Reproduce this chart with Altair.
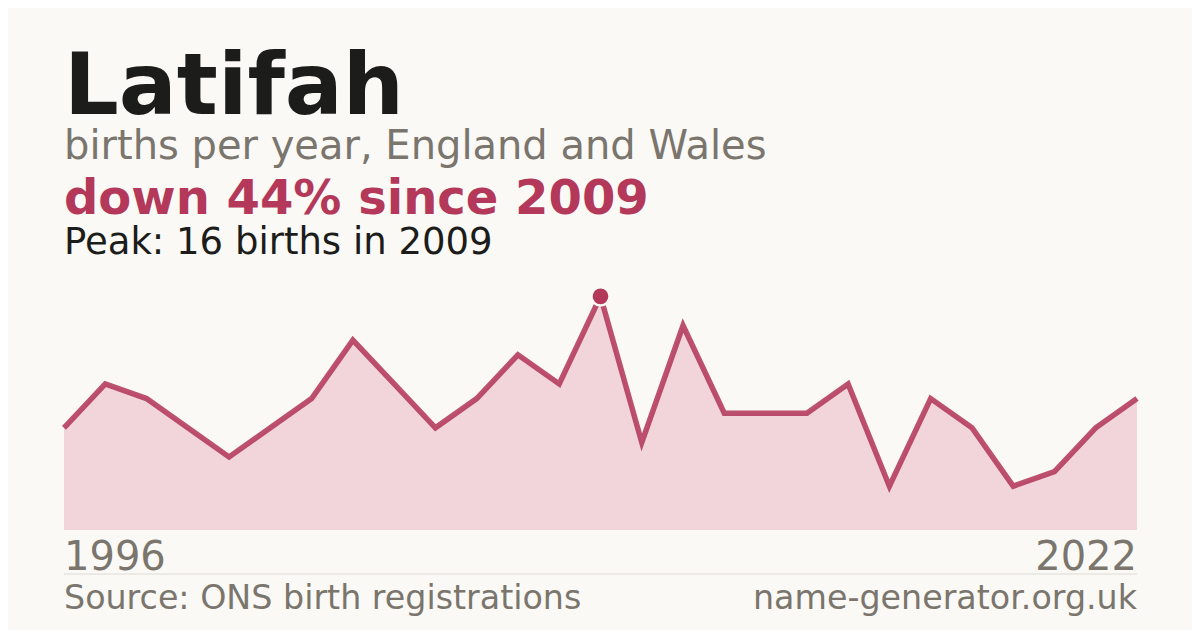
import altair as alt
import pandas as pd

years = list(range(1996, 2023))
births = [7, 10, 9, 7, 5, 7, 9, 13, 10, 7, 9, 12, 10, 16, 6, 14, 8, 8, 8, 10, 3, 9, 7, 3, 4, 7, 9]

name = "Latifah"
subtitle = "births per year, England and Wales"
headline = "down 44% since 2009"
peak_text = "Peak: 16 births in 2009"
start_label = "1996"
end_label = "2022"
source_text = "Source: ONS birth registrations"
site_text = "name-generator.org.uk"
peak_year = [2009]
peak_value = [16]

LINE = "#b3385a"
AREA = "#f1d5da"
GREY = "#7a756d"
DARK = "#1c1c1a"
BG = "#faf9f5"
FONT = "DejaVu Sans"

df = pd.DataFrame({"year": years, "births": births})
peak_df = pd.DataFrame({"year": peak_year, "births": peak_value})

x = alt.X("year:Q", scale=alt.Scale(domain=[1996, 2022], nice=False, zero=False), axis=None)
y = alt.Y("births:Q", scale=alt.Scale(domain=[0, 17.12], nice=False), axis=None)

base = alt.Chart(df)
area = base.mark_area(color=AREA, opacity=1).encode(x=x, y=y)
line = base.mark_line(color=LINE, strokeWidth=5.5, strokeJoin="miter", opacity=0.88).encode(x=x, y=y)
point = alt.Chart(peak_df).mark_point(
    shape="circle", filled=True, size=330, color=LINE, stroke=BG, strokeWidth=2.5, opacity=1
).encode(x=x, y=y)


def txt(s, yv, size, color, weight="normal", align="left", xv=0):
    return alt.Chart(pd.DataFrame({"t": [s]})).mark_text(
        align=align, baseline="alphabetic", font=FONT, fontSize=size,
        fontWeight=weight, color=color
    ).encode(text="t:N", x=alt.value(xv), y=alt.value(yv))


t_name = txt(name, -166, 86, DARK, "bold")
t_sub = txt(subtitle, -121, 40, GREY)
t_head = txt(headline, -66, 48, "#b3385a", "bold")
t_peak = txt(peak_text, -26, 37, DARK)
t_start = txt(start_label, 290, 40, GREY)
t_end = txt(end_label, 290, 40, GREY, align="right", xv=1073)
t_src = txt(source_text, 329, 33.3, GREY)
t_site = txt(site_text, 329, 33.3, GREY, align="right", xv=1073)

rule = alt.Chart(pd.DataFrame({"a": [0]})).mark_rule(color="#dddad3", strokeWidth=1).encode(
    x=alt.value(0), x2=alt.value(1073), y=alt.value(294)
)

chart = alt.layer(
    area, line, point, t_name, t_sub, t_head, t_peak, t_start, t_end, rule, t_src, t_site
).properties(
    width=1073, height=250,
    autosize=alt.AutoSizeParams(type="none"),
    padding={"left": 56, "top": 272, "right": 55, "bottom": 100},
    background=BG,
).configure_view(stroke=None)

chart.save("out.html", embed_options={"renderer": "svg", "actions": False})
